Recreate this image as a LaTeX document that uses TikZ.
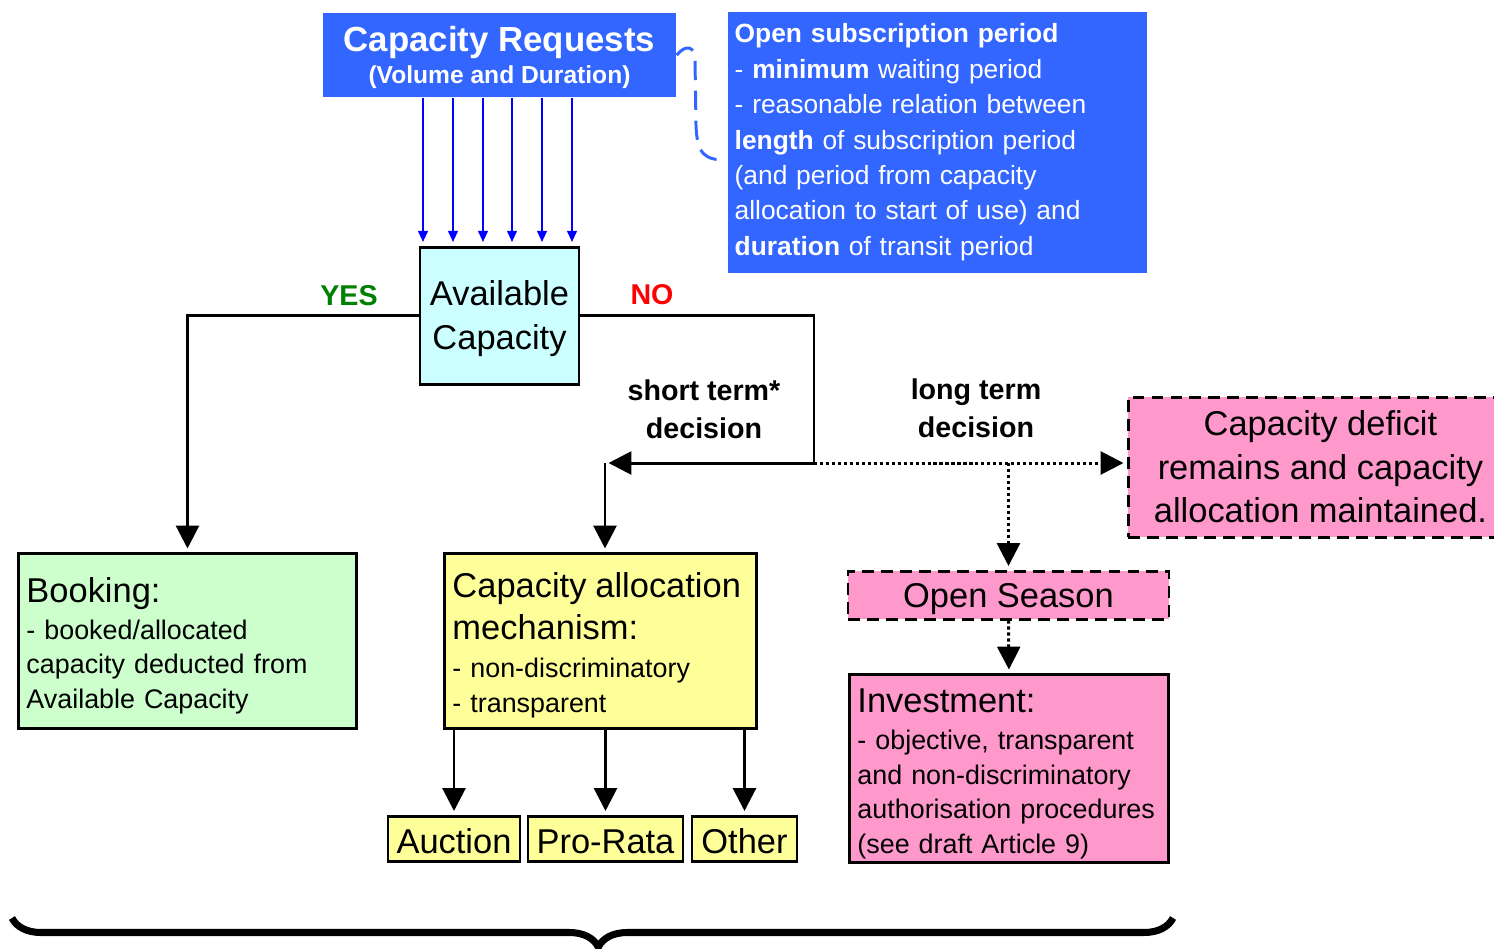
\documentclass[tikz,border=0pt]{standalone}
\usepackage{fontspec}
\setmainfont{Liberation Sans}
\usetikzlibrary{arrows.meta,decorations.pathreplacing}
\definecolor{reqblue}{RGB}{51,102,255}
\definecolor{availcyan}{RGB}{204,255,255}
\definecolor{bookgreen}{RGB}{204,255,204}
\definecolor{camyellow}{RGB}{255,255,153}
\definecolor{investpink}{RGB}{255,153,204}
\definecolor{yesgreen}{RGB}{0,128,0}
\newcommand{\fontBig}{\fontsize{9.8}{12.4}\selectfont}
\newcommand{\fontSmall}{\fontsize{7.65}{9.9}\selectfont}
\newcommand{\fontNote}{\fontsize{7.5}{10.06}\selectfont}
\newcommand{\fontLabel}{\fontsize{8.15}{10.8}\selectfont\bfseries}
\newcommand{\fontReq}{\fontsize{9.9}{9.1}\selectfont\bfseries}
\newcommand{\fontReqSub}{\fontsize{7}{9.1}\selectfont}
\newcommand{\topgap}[1]{\rule{0pt}{#1}}

\begin{document}
\begin{tikzpicture}[y=-1cm,shorten >=1pt]
		\tikzstyle{box}=[draw,line width=0.85pt,inner sep=0pt]
		\tikzstyle{textbox}=[box,anchor=north west,align=left,inner xsep=0.08cm,font=\fontSmall]
		\tikzstyle{dashbox}=[box,dash pattern=on 3.4pt off 2pt,fill=investpink]
		\tikzstyle{method}=[box,fill=camyellow,minimum height=0.45cm,text height=8.3pt,text depth=0pt,font=\fontBig]
		\tikzstyle{arr}=[-{Triangle[length=6.5pt,width=6.5pt]},line width=0.85pt]
		\tikzstyle{dotarr}=[arr,dash pattern=on 0.9pt off 0.8pt]
		\tikzstyle{bluearr}=[-{Triangle[length=3.2pt,width=2.8pt]},blue,line width=0.57pt]

		\useasboundingbox (0,0) rectangle (14.94,9.49);

		\node[fill=reqblue,text=white,inner sep=0pt,minimum width=3.53cm,minimum height=0.84cm,align=center,font=\fontReq](req) at (4.995,0.55){\topgap{8.7pt}Capacity Requests\\{\fontReqSub (Volume and Duration)}};
		\node[fill=reqblue,text=white,anchor=north west,minimum width=4.19cm,minimum height=2.61cm,text width=4.05cm,inner xsep=0.07cm,align=left,font=\fontNote](note) at (7.27,0.11){\textbf{Open subscription period}\\- \textbf{minimum} waiting period\\- reasonable relation between\\\textbf{length} of subscription period\\(and period from capacity\\allocation to start of use) and\\\textbf{duration} of transit period};

		\node[box,fill=availcyan,minimum width=1.59cm,minimum height=1.37cm,align=center,font=\fontBig](avail) at (4.995,3.155){\topgap{9pt}Available\\Capacity};

		\node[textbox,fill=bookgreen,text width=3.22cm,minimum height=1.75cm](book) at (0.17,5.52){{\fontBig\topgap{9.8pt}Booking:}\\[0.65pt]- booked/allocated\\capacity deducted from\\Available Capacity};
		\node[textbox,fill=camyellow,text width=2.96cm,minimum height=1.75cm](cam) at (4.43,5.52){{\fontBig\topgap{9.4pt}Capacity allocation\\[2.3pt]mechanism:}\\[0.85pt]- non-discriminatory\\- transparent};
		\node[textbox,fill=investpink,text width=3.03cm,minimum height=1.88cm](invest) at (8.48,6.73){{\fontBig\topgap{9.8pt}Investment:}\\[0.65pt]- objective, transparent\\and non-discriminatory\\authorisation procedures\\(see draft Article 9)};

		\node[dashbox,minimum width=3.21cm,minimum height=0.48cm,text depth=0pt,font=\fontBig](season) at (10.085,5.95){Open Season};
		\node[dashbox,anchor=west,minimum width=3.84cm,minimum height=1.40cm,align=center,font=\fontBig](deficit) at (11.27,4.67){Capacity deficit\\remains and capacity\\allocation maintained.};

		\node[method,minimum width=1.32cm](auction) at (4.54,8.385){Auction};
		\node[method,minimum width=1.55cm](prorata) at (6.055,8.385){Pro-Rata};
		\node[method,minimum width=1.05cm](other) at (7.445,8.385){Other};

		\node[text=yesgreen,font=\fontLabel](yes) at (3.49,2.96){YES};
		\node[text=red,font=\fontLabel](no) at (6.52,2.95){NO};
		\node[align=center,font=\fontLabel](short) at (7.04,4.09){short term*\\decision};
		\node[align=center,font=\fontLabel](long) at (9.76,4.08){long term\\decision};

		\coordinate (split) at (8.14,4.63);
		\coordinate (turn) at (6.05,4.63);
		\coordinate (branch) at (split -| season.north);
		\coordinate (noteend) at (7.27,1.6);

		\foreach \x in {4.23,4.53,4.83,5.12,5.42,5.72}
			\draw[bluearr] (\x,0 |- req.south) -- (\x,0 |- avail.north);
		\draw[reqblue,line width=0.85pt,dash pattern=on 5.5pt off 3pt,shorten >=0pt] (req.east) .. controls (6.86,0.44) and (6.95,0.46) .. (6.95,0.6) -- (6.96,1.25) .. controls (6.97,1.55) and (7.05,1.6) .. (noteend);

		\draw[arr] (avail.west) -| (book.north);
		\draw[arr] (avail.east) -| (split) -- (turn);
		\draw[arr] (turn) -- (cam.north -| turn);
		\draw[dotarr] (split) -- (split -| deficit.west);
		\draw[dotarr] (branch) -- (season.north);
		\draw[dotarr] (season.south) -- (invest.north);
		\foreach \b in {auction,prorata,other}
			\draw[arr] (cam.south -| \b.north) -- (\b.north);

		\draw[decorate,decoration={brace,mirror,amplitude=0.29cm,aspect=0.505},line width=2pt,shorten >=0pt] (0.12,9.18) -- (11.73,9.18);
\end{tikzpicture}
\end{document}
